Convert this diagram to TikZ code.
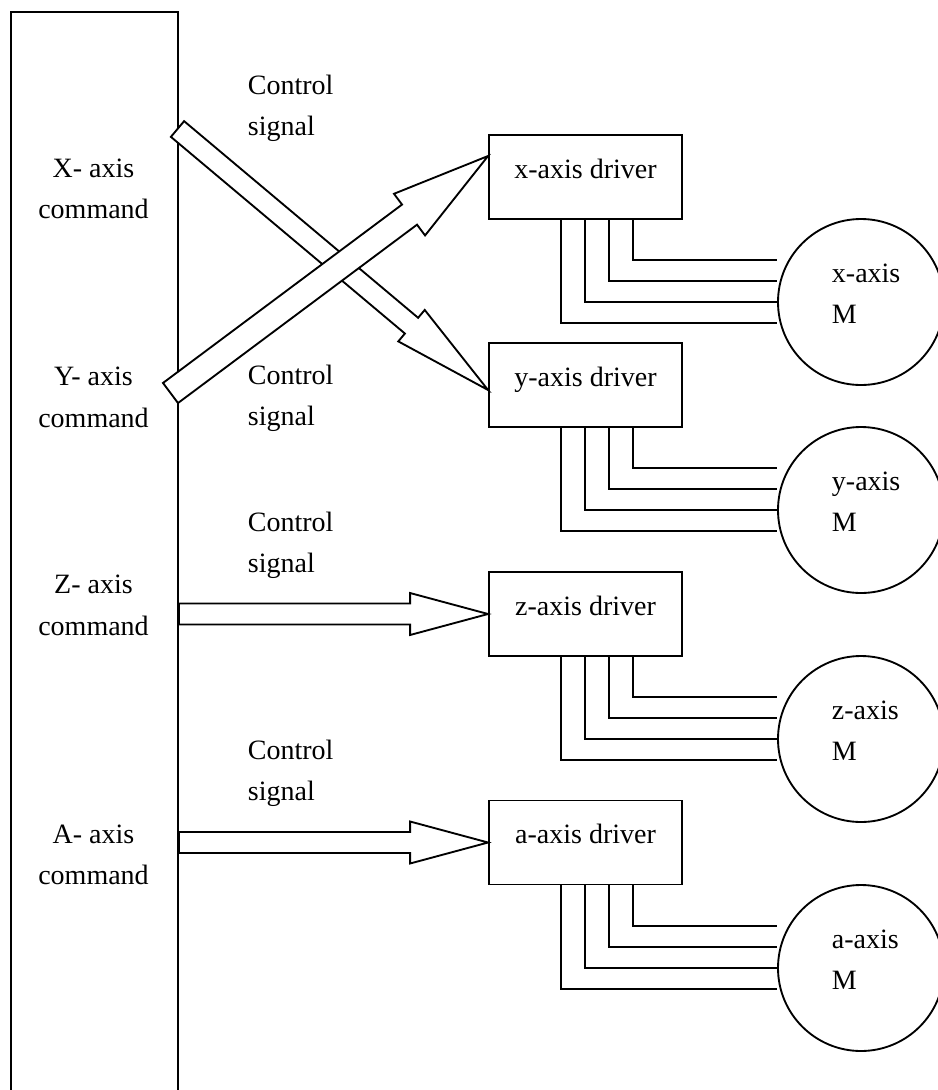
\documentclass[tikz,border=0pt]{standalone}
\usepackage{fontspec}
\setmainfont{Liberation Serif}
\usetikzlibrary{calc}

% hollow arrow: tail, tip, half shaft, head length, half head
\newcommand{\fatarrow}[5]{%
  \path (#1) coordinate (faT) (#2) coordinate (faH);
  \path ($(faH)!#4!(faT)$) coordinate (faB);
  \draw[fill=white] ($(faT)!#3!90:(faH)$) -- ($(faB)!#3!90:(faH)$) -- ($(faB)!#5!90:(faH)$)
    -- (faH) -- ($(faB)!#5!-90:(faH)$) -- ($(faB)!#3!-90:(faH)$) -- ($(faT)!#3!-90:(faH)$) -- cycle;}

\begin{document}
\begin{tikzpicture}[x=0.75pt,y=-0.75pt,line width=1.4pt,
  every node/.style={font=\fontsize{21}{31}\selectfont},
  driver/.style={draw,minimum width=144.75pt,minimum height=63pt,text depth=12.75pt,inner sep=0},
  motor/.style={draw,circle,minimum size=124.5pt,inner sep=0},
  lbl/.style={align=left,anchor=west,inner sep=0},
  cmdtext/.style={align=center,inner sep=0}]
\useasboundingbox (0,0) rectangle (938,1090);
\clip (0,0) rectangle (938,1090);

  \node[draw,anchor=north west,minimum width=125.25pt,minimum height=817pt,inner sep=0] (cmd) at (10,11) {};
  \node[cmdtext] (xcmd) at (93.5,189) {X- axis\\command};
  \node[cmdtext] (ycmd) at (93.5,397.5) {Y- axis\\command};
  \node[cmdtext] (zcmd) at (93.5,605.5) {Z- axis\\command};
  \node[cmdtext] (acmd) at (93.5,855) {A- axis\\command};

  \node[driver] (xdrv) at (585.5,177) {x-axis driver};
  \node[driver] (ydrv) at (585.5,385) {y-axis driver};
  \node[driver] (zdrv) at (585.5,614) {z-axis driver};
  \node[driver] (adrv) at (585.5,842.5) {a-axis driver};

  \node[motor] (xmot) at (861,302) {};
  \node[motor] (ymot) at (861,510) {};
  \node[motor] (zmot) at (861,739) {};
  \node[motor] (amot) at (861,968) {};
  \node[lbl] (xmtxt) at (831,293.5) {x-axis\\M};
  \node[lbl] (ymtxt) at (831,501.5) {y-axis\\M};
  \node[lbl] (zmtxt) at (831,730.5) {z-axis\\M};
  \node[lbl] (amtxt) at (831,959.5) {a-axis\\M};

  \node[lbl] (xsig) at (247,108) {Control\\signal};
  \node[lbl] (ysig) at (247,398.5) {Control\\signal};
  \node[lbl] (zsig) at (247,545) {Control\\signal};
  \node[lbl] (asig) at (247,773.5) {Control\\signal};

  \coordinate (xout) at (177.5,129);
  \coordinate (yout) at (170.5,393);
  \fatarrow{xout}{$(ydrv.west)+(0,5)$}{7.7pt}{75pt}{15.4pt}
  \fatarrow{yout}{$(xdrv.west)+(0,-21)$}{9.4pt}{73.5pt}{19.5pt}
  \fatarrow{cmd.east |- zdrv.west}{zdrv.west}{7.9pt}{58.5pt}{15.75pt}
  \fatarrow{cmd.east |- adrv.west}{adrv.west}{7.9pt}{58.5pt}{15.75pt}

  \foreach \d/\m in {xdrv/xmot,ydrv/ymot,zdrv/zmot,adrv/amot}
    \foreach \k in {0,1,2,3}
      \draw ($(\d.south west)+(73+24*\k,0)$) |- ($(\m.west)+(0,21-21*\k)$);

\end{tikzpicture}
\end{document}
